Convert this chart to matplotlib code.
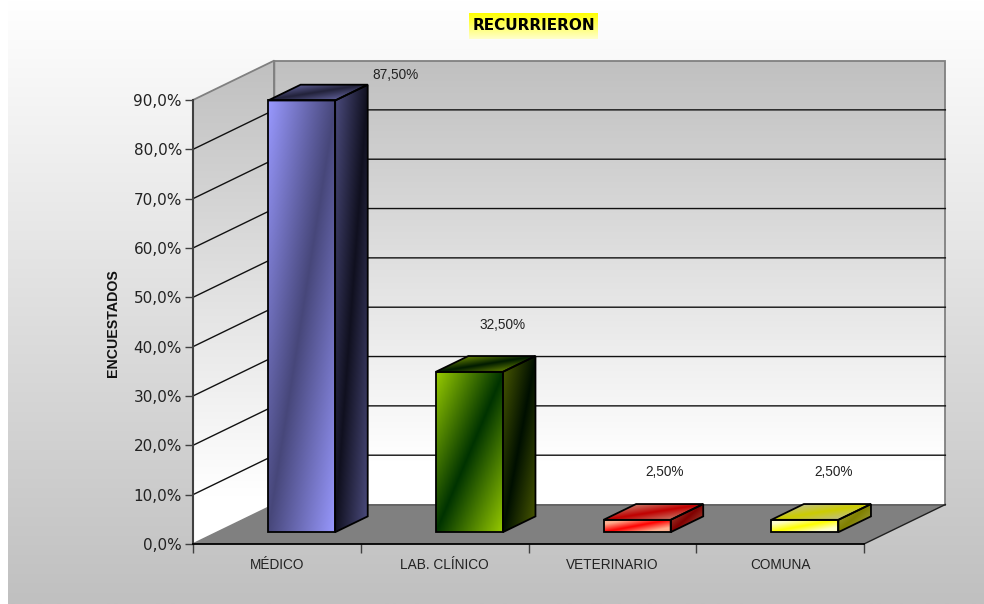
import numpy as np
import matplotlib
matplotlib.use('Agg')
import matplotlib.pyplot as plt
from matplotlib.colors import to_rgb
from matplotlib.patches import Polygon

# datos del grafico
categorias = ['MÉDICO', 'LAB. CLÍNICO', 'VETERINARIO', 'COMUNA']
valores = [87.5, 32.5, 2.5, 2.5]
etiquetas = ['87,50%', '32,50%', '2,50%', '2,50%']
ticks_y = [0, 10, 20, 30, 40, 50, 60, 70, 80, 90]
ticks_y_txt = ['0,0%', '10,0%', '20,0%', '30,0%', '40,0%', '50,0%', '60,0%', '70,0%', '80,0%', '90,0%']

# colores (borde del degradado, centro del degradado) para frente, lado y tapa
colores = [
    {'frente': ('#9999ff', '#47477a'), 'lado': ('#4d4d80', '#10101f'), 'tapa': ('#5a5a90', '#22223a')},
    {'frente': ('#99cc00', '#003300'), 'lado': ('#4d5c00', '#000f00'), 'tapa': ('#5c7a00', '#001a00')},
    {'frente': ('#ffb090', '#ff0000'), 'lado': ('#a04030', '#800000'), 'tapa': ('#c87060', '#c00000')},
    {'frente': ('#ffffcc', '#ffff00'), 'lado': ('#999933', '#808000'), 'tapa': ('#c0c080', '#cccc00')},
]
# desplazamiento de cada etiqueta respecto a su barra, en pixeles
offsets = [(94, 25), (33, 47), (28, 48), (29, 48)]

W, H = 984, 604
DX, DY = 0.485, 8.0  # profundidad del 3D en unidades de datos
D0, D1 = 0.3, 0.7    # la barra ocupa esta parte de la profundidad
GAP, ANCHO = 0.302, 0.4

plt.rcParams['font.family'] = ['Liberation Sans', 'DejaVu Sans']


def degradado(claro, oscuro, ganancia=1.0):
    u, v = np.meshgrid(np.linspace(0, 1, 200), np.linspace(0, 1, 200))
    t = np.clip(np.abs(u + v - 1) * ganancia, 0, 1)[..., None]
    c1, c2 = np.array(to_rgb(claro)), np.array(to_rgb(oscuro))
    return c2 + (c1 - c2) * t


def vertical(arriba, abajo, fin=1.0):
    t = np.clip(np.linspace(0, 1, 256) / fin, 0, 1)[:, None, None]
    return np.array(to_rgb(arriba)) + (np.array(to_rgb(abajo)) - np.array(to_rgb(arriba))) * t


def cara(ax, pts, img, z, borde='black'):
    # pinta img dentro del poligono pts
    pts = np.array(pts)
    poly = Polygon(pts, closed=True, fc='none', ec='none', transform=ax.transData)
    im = ax.imshow(img, extent=(pts[:, 0].min(), pts[:, 0].max(), pts[:, 1].min(), pts[:, 1].max()),
                   origin='upper', aspect='auto', zorder=z, interpolation='bilinear')
    im.set_clip_box(fig.bbox)
    im.set_clip_path(poly)
    ax.add_patch(Polygon(pts, closed=True, fc='none', ec=borde, lw=1.3, zorder=z + 0.1,
                         joinstyle='miter', clip_on=False))


fig = plt.figure(figsize=(W / 100, H / 100), dpi=100, facecolor='white')

# fondo con degradado, deja 8 px blancos a la izquierda
fondo = fig.add_axes([8 / W, 0, (W - 8) / W, 1], zorder=0)
fondo.imshow(vertical('#ffffff', '#c0c0c0'), aspect='auto', extent=(0, 1, 0, 1))
fondo.axis('off')

ax = fig.add_axes([193 / W, (H - 544) / H, 671 / W, 444 / H], zorder=1)
ax.patch.set_alpha(0)
ax.set_xlim(0, 4)
ax.set_ylim(0, 90)

# paredes y piso
pared = vertical('#c0c0c0', '#ffffff', 0.9)
ymax = ticks_y[-1]
cara(ax, [(0, 0), (DX, DY), (DX, ymax + DY), (0, ymax)], pared, 1, borde='#808080')
cara(ax, [(DX, DY), (4 + DX, DY), (4 + DX, ymax + DY), (DX, ymax + DY)], pared, 1, borde='#808080')
ax.add_patch(Polygon([(0, 0), (4, 0), (4 + DX, DY), (DX, DY)], closed=True, fc='#808080', ec='none',
                     zorder=1.5, clip_on=False))
ax.plot([DX, 4 + DX], [DY, DY], color='#606060', lw=1.2, zorder=1.6, clip_on=False)
ax.plot([4, 4 + DX], [0, DY], color='#202020', lw=1, zorder=1.6, clip_on=False)

# lineas de grilla sobre las paredes
for t in ticks_y[1:-1]:
    ax.plot([0, DX, 4 + DX], [t, t + DY, t + DY], color='#111111', lw=1, zorder=1.7, clip_on=False)

# barras
for i, v in enumerate(valores):
    x0 = i + GAP + DX * D0
    x1 = x0 + ANCHO
    y0 = DY * D0
    y1 = y0 + v
    sx = DX * (D1 - D0)
    sy = DY * (D1 - D0)
    c = colores[i]
    g = 1.6 if v < 10 else 1.0  # en las barras bajas el degradado se ve mas abierto
    cara(ax, [(x0, y1), (x0 + sx, y1 + sy), (x1 + sx, y1 + sy), (x1, y1)], degradado(*c['tapa'], 1.6), 3)
    cara(ax, [(x1, y0), (x1 + sx, y0 + sy), (x1 + sx, y1 + sy), (x1, y1)], degradado(*c['lado'], g), 3)
    cara(ax, [(x0, y0), (x1, y0), (x1, y1), (x0, y1)], degradado(*c['frente'], g), 3)
    ax.annotate(etiquetas[i], xy=((x0 + x1) / 2, y1), xytext=offsets[i], textcoords='offset pixels',
                ha='center', va='center', fontsize=9.8, color='#222222', annotation_clip=False, zorder=6)

ax.set_xlim(0, 4)
ax.set_ylim(0, 90)

# ejes
for lado in ['top', 'right']:
    ax.spines[lado].set_visible(False)
ax.spines['left'].set_color('#404040')
ax.spines['left'].set_linewidth(1.5)
ax.spines['bottom'].set_color('#000000')
ax.spines['bottom'].set_linewidth(1.3)
for lado in ['left', 'bottom']:
    ax.spines[lado].set_zorder(5)

ax.set_yticks(ticks_y)
ax.set_yticklabels(ticks_y_txt, family=['DejaVu Sans'], fontsize=11, color='#222222')
ax.tick_params(axis='y', length=6, width=1, color='#404040', pad=2)
ax.set_xticks(np.arange(len(categorias) + 1))
ax.set_xticklabels([])
ax.set_xticks(np.arange(len(categorias)) + 0.5, minor=True)
ax.set_xticklabels(categorias, minor=True, fontsize=9.8, color='#222222')
ax.tick_params(axis='x', which='major', length=6.2, width=1, color='#404040')
ax.tick_params(axis='x', which='minor', length=0, pad=10)

ax.set_ylabel('ENCUESTADOS', fontsize=10.2, fontweight='bold', color='#111111')
ax.yaxis.set_label_coords((120 - 193) / 671, (544 - 323) / 444)

# titulo sobre caja amarilla con degradado
caja = fig.add_axes([469 / W, (H - 39) / H, 129 / W, 26 / H], zorder=2)
caja.imshow(vertical('#ffff00', '#ffffcc'), aspect='auto', extent=(0, 1, 0, 1))
caja.axis('off')
caja.text(0.5, 0.5, 'RECURRIERON', transform=caja.transAxes, ha='center', va='center',
          family=['DejaVu Sans'], fontsize=11, fontweight='bold', color='black')

fig.savefig('out.png', dpi=100)
